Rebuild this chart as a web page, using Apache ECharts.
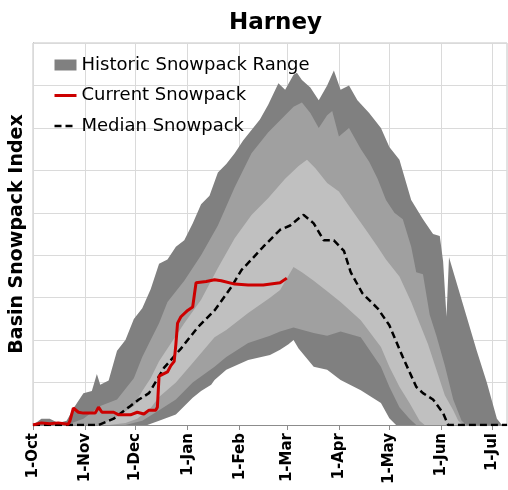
<!DOCTYPE html>
<html>
<head>
<meta charset="UTF-8">
<title>Harney</title>
<script src="https://cdn.jsdelivr.net/npm/echarts@6/dist/echarts.min.js"></script>
<style>
  html, body { margin: 0; padding: 0; background: #fff; }
  #main { width: 508px; height: 490px; }
</style>
</head>
<body>
<div id="main"></div>
<script type="text/javascript">
// days since 1-Oct and the month labels
var monthDays = [0, 31, 61, 92, 123, 151, 182, 212, 243, 273];
var monthLabels = ['1-Oct', '1-Nov', '1-Dec', '1-Jan', '1-Feb', '1-Mar', '1-Apr', '1-May', '1-Jun', '1-Jul'];

// historic envelope, [day, index]
var maxSnow = [[0,0],[5,0.15],[10,0.15],[15,0.05],[20,0.1],[25,0.45],[30,0.75],[35,0.8],[38,1.2],[40,0.95],[45,1.05],[50,1.75],[55,2.0],[60,2.5],[65,2.75],[70,3.2],[75,3.8],[80,3.9],[85,4.2],[90,4.35],[95,4.75],[100,5.2],[105,5.4],[110,5.95],[115,6.15],[120,6.4],[125,6.7],[130,6.95],[135,7.2],[140,7.55],[146,8.05],[150,7.9],[155,8.25],[157,8.3],[160,8.13],[165,7.95],[170,7.65],[175,8.0],[179,8.35],[183,7.9],[188,8.0],[193,7.65],[200,7.35],[207,7.0],[212,6.55],[218,6.25],[225,5.3],[232,4.85],[238,4.5],[242,4.45],[244,3.85],[246,2.55],[247.5,3.95],[252,3.35],[258,2.55],[264,1.75],[270,1.0],[276,0.15],[279,0],[282,0]];
var p90 = [[0,0],[20,0],[30,0.15],[40,0.45],[50,0.6],[60,1.1],[65,1.6],[70,2.0],[75,2.4],[80,2.9],[90,3.4],[100,4.0],[110,4.7],[120,5.6],[130,6.4],[140,6.9],[145,7.1],[150,7.3],[155,7.5],[160,7.6],[165,7.35],[170,7.0],[175,7.3],[178,7.4],[182,6.8],[188,7.0],[195,6.5],[200,6.2],[205,5.8],[210,5.3],[215,5.0],[220,4.85],[225,4.2],[228,3.6],[232,3.55],[236,2.6],[240,2.1],[245,1.4],[250,0.6],[255,0.1],[258,0],[282,0]];
var p70 = [[0,0],[40,0],[45,0.1],[50,0.2],[60,0.45],[65,0.8],[70,1.1],[75,1.5],[80,1.8],[90,2.4],[100,2.95],[110,3.7],[120,4.4],[130,4.95],[140,5.35],[150,5.8],[158,6.1],[163,6.25],[168,6.05],[175,5.7],[182,5.5],[190,5.05],[198,4.6],[205,4.2],[210,3.9],[218,3.5],[225,2.9],[230,2.4],[235,1.9],[240,1.3],[245,0.7],[250,0.35],[253,0.1],[256,0],[282,0]];
var p30 = [[0,0],[45,0],[55,0.05],[62,0.15],[70,0.4],[75,0.66],[85,1.0],[95,1.46],[108,2.07],[115,2.24],[128,2.64],[141,3.0],[147,3.18],[155,3.72],[160,3.6],[167,3.4],[175,3.15],[183,2.9],[195,2.47],[207,1.84],[212,1.37],[218,0.9],[224,0.52],[230,0.1],[233,0],[282,0]];
var p10 = [[0,0],[55,0],[65,0.1],[75,0.35],[85,0.6],[95,1.0],[108,1.37],[115,1.6],[128,1.93],[141,2.1],[147,2.2],[155,2.3],[167,2.17],[175,2.1],[183,2.2],[195,2.07],[207,1.37],[212,0.9],[218,0.42],[224,0.15],[228,0],[282,0]];
var minSnow = [[0,0],[68,0],[75,0.1],[85,0.25],[95,0.64],[100,0.8],[106,0.95],[108,1.06],[115,1.3],[128,1.53],[141,1.65],[147,1.77],[152,1.9],[155,2.0],[158,1.8],[167,1.37],[175,1.3],[183,1.06],[195,0.82],[207,0.52],[212,0.16],[216,0],[282,0]];

var median = [[0,0],[39,0],[48,0.15],[58,0.45],[63,0.6],[69,0.75],[78,1.35],[88,1.8],[98,2.3],[108,2.7],[118,3.25],[124,3.65],[130,3.9],[137,4.2],[147,4.6],[153,4.7],[159,4.9],[161,4.95],[167,4.75],[173,4.35],[179,4.35],[185,4.1],[189,3.6],[196,3.1],[205,2.75],[212,2.35],[220,1.6],[228,0.9],[232,0.75],[238,0.6],[244,0.28],[247,0],[282,0]];
var current = [[0,0],[5,0.05],[10,0.03],[15,0.05],[21,0.02],[22,0.1],[24,0.4],[27,0.3],[30,0.28],[37,0.28],[39,0.42],[41,0.3],[48,0.3],[51,0.24],[58,0.24],[62,0.3],[66,0.26],[69,0.35],[73,0.35],[74,0.42],[75,1.15],[80,1.25],[82,1.4],[84,1.5],[85,1.9],[86,2.4],[88,2.55],[92,2.7],[95,2.78],[97,3.35],[103,3.38],[108,3.42],[112,3.4],[120,3.32],[128,3.3],[137,3.3],[147,3.35],[151,3.46]];

var dark = '#808080', mid = '#a0a0a0', light = '#c0c0c0';

function band(name, data, color) {
    return {
        name: name,
        type: 'line',
        data: data,
        showSymbol: false,
        symbol: 'none',
        silent: true,
        color: color,
        lineStyle: { width: 0 },
        itemStyle: { color: color },
        areaStyle: { color: color, opacity: 1, origin: 'start' }
    };
}

var myChart = echarts.init(document.getElementById('main'));
var option = {
    animation: false,
    title: {
        text: 'Harney',
        left: 224,
        top: 7,
        textStyle: { fontFamily: 'DejaVu Sans', fontWeight: 'bold', fontSize: 23, color: '#000' }
    },
    legend: {
        orient: 'vertical',
        left: 53,
        top: 56,
        padding: 0,
        itemWidth: 22,
        itemHeight: 11,
        itemGap: 12.5,
        textStyle: { fontFamily: 'DejaVu Sans', fontSize: 18, color: '#000', lineHeight: 18 },
        data: [
            { name: 'Historic Snowpack Range', icon: 'rect' },
            { name: 'Current Snowpack', itemStyle: { opacity: 0 }, lineStyle: { width: 3 } },
            { name: 'Median Snowpack', itemStyle: { opacity: 0 }, lineStyle: { width: 2.5 } }
        ]
    },
    grid: {
        left: 31, right: 1, top: 43, bottom: 65,
        show: true, borderColor: '#c4c4c4', borderWidth: 1
    },
    xAxis: [{
        type: 'value',
        min: 0,
        max: 282,
        axisLine: { lineStyle: { color: '#8c8c8c' } },
        axisTick: { customValues: monthDays, length: 5, lineStyle: { color: '#8c8c8c' } },
        axisLabel: {
            customValues: monthDays,
            rotate: 90,
            margin: 8,
            fontFamily: 'DejaVu Sans',
            fontWeight: 'bold',
            fontSize: 15,
            color: '#000',
            formatter: function (v) {
                var i = monthDays.indexOf(v);
                return i >= 0 ? monthLabels[i] : '';
            }
        },
        splitLine: { show: false }
    }, {
        // vertical grid lines at the start of each month
        type: 'value',
        min: 0,
        max: 282,
        position: 'bottom',
        axisLine: { show: false },
        axisLabel: { show: false },
        axisTick: { customValues: monthDays, inside: true, length: 382, lineStyle: { color: '#dadada' } },
        splitLine: { show: false }
    }],
    yAxis: {
        type: 'value',
        min: 0,
        max: 9,
        interval: 1,
        name: 'Basin Snowpack Index',
        nameLocation: 'middle',
        nameGap: 6,
        nameTextStyle: { fontFamily: 'DejaVu Sans', fontWeight: 'bold', fontSize: 19, color: '#000' },
        axisLine: { show: true, lineStyle: { color: '#a6a6a6' } },
        axisTick: { show: false },
        axisLabel: { show: false },
        splitLine: { lineStyle: { color: '#dadada' } }
    },
    series: [
        band('Historic Snowpack Range', maxSnow, dark),
        band('p90', p90, mid),
        band('p70', p70, light),
        band('p30', p30, mid),
        band('p10', p10, dark),
        band('min', minSnow, '#ffffff'),
        {
            name: 'Median Snowpack',
            type: 'line',
            data: median,
            showSymbol: false,
            symbol: 'none',
            color: '#000',
            lineStyle: { color: '#000', width: 2.5, type: [7, 4] },
            z: 4
        },
        {
            name: 'Current Snowpack',
            type: 'line',
            data: current,
            showSymbol: false,
            symbol: 'none',
            color: '#cc0000',
            lineStyle: { color: '#cc0000', width: 3 },
            z: 5
        }
    ]
};
myChart.setOption(option);
</script>
</body>
</html>
